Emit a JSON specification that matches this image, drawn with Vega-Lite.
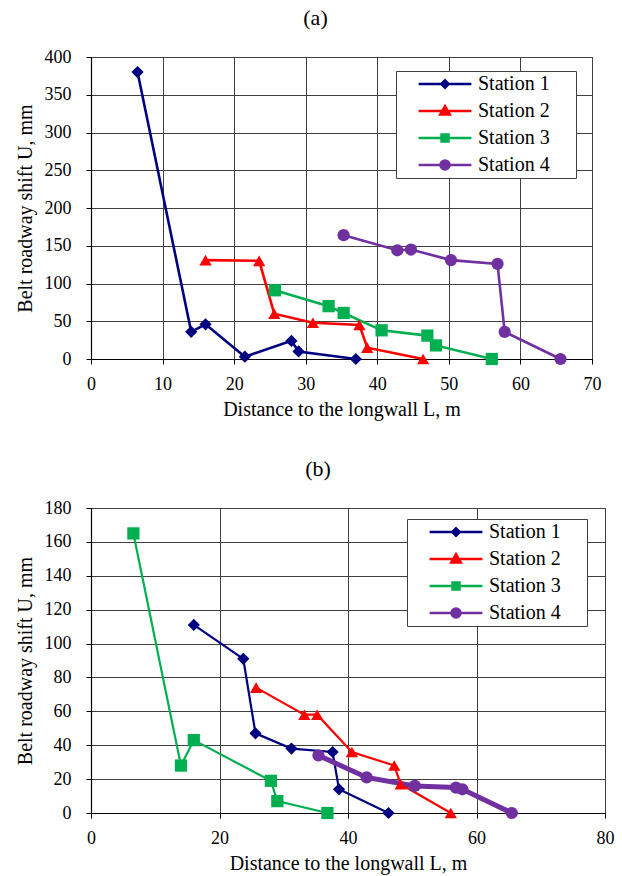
{
  "$schema": "https://vega.github.io/schema/vega-lite/v6.json",
  "padding": {"left": 14, "top": 6, "right": 5, "bottom": 5},
  "background": "white",
  "config": {
    "font": "Liberation Serif",
    "view": {"stroke": "#404040", "strokeWidth": 1},
    "axis": {
      "labelFont": "Liberation Serif", "labelFontSize": 18, "labelColor": "black",
      "titleFont": "Liberation Serif", "titleFontSize": 20, "titleFontWeight": "normal", "titleColor": "black",
      "grid": true, "gridColor": "#404040", "gridOpacity": 1, "gridWidth": 1,
      "domainColor": "black", "domainWidth": 1.2, "tickColor": "black", "tickSize": 5, "labelFlush": false
    },
    "axisX": {"labelPadding": 11, "titlePadding": 6},
    "axisY": {"labelPadding": 15, "titlePadding": 9},
    "title": {"font": "Liberation Serif", "fontSize": 22, "fontWeight": "normal", "color": "black"},
    "legend": {
      "orient": "none", "title": null, "strokeColor": "#404040", "fillColor": "white", "padding": 3,
      "labelFont": "Liberation Serif", "labelFontSize": 20, "labelColor": "black",
      "symbolSize": 144, "symbolStrokeWidth": 2.5, "rowPadding": 7,
      "symbolOffset": 36, "labelOffset": 23
    }
  },
  "datasets": {
    "a": [
      {"station": "Station 1", "L": 6.5, "U": 380},
      {"station": "Station 1", "L": 14, "U": 36},
      {"station": "Station 1", "L": 16, "U": 46},
      {"station": "Station 1", "L": 21.5, "U": 3},
      {"station": "Station 1", "L": 28, "U": 24},
      {"station": "Station 1", "L": 29, "U": 10},
      {"station": "Station 1", "L": 37, "U": 0},
      {"station": "Station 2", "L": 16, "U": 131},
      {"station": "Station 2", "L": 23.5, "U": 130},
      {"station": "Station 2", "L": 25.6, "U": 60},
      {"station": "Station 2", "L": 31, "U": 48},
      {"station": "Station 2", "L": 37.5, "U": 45},
      {"station": "Station 2", "L": 38.6, "U": 15},
      {"station": "Station 2", "L": 46.4, "U": 0},
      {"station": "Station 3", "L": 25.7, "U": 91},
      {"station": "Station 3", "L": 33.2, "U": 70},
      {"station": "Station 3", "L": 35.3, "U": 61},
      {"station": "Station 3", "L": 40.6, "U": 38},
      {"station": "Station 3", "L": 47, "U": 31},
      {"station": "Station 3", "L": 48.2, "U": 18},
      {"station": "Station 3", "L": 56, "U": 0},
      {"station": "Station 4", "L": 35.3, "U": 164},
      {"station": "Station 4", "L": 42.8, "U": 144},
      {"station": "Station 4", "L": 44.7, "U": 145},
      {"station": "Station 4", "L": 50.3, "U": 131},
      {"station": "Station 4", "L": 56.8, "U": 126},
      {"station": "Station 4", "L": 57.8, "U": 36},
      {"station": "Station 4", "L": 65.6, "U": 0}
    ],
    "b": [
      {"station": "Station 1", "L": 16, "U": 111},
      {"station": "Station 1", "L": 23.7, "U": 91},
      {"station": "Station 1", "L": 25.6, "U": 47},
      {"station": "Station 1", "L": 31.2, "U": 38},
      {"station": "Station 1", "L": 37.6, "U": 36},
      {"station": "Station 1", "L": 38.6, "U": 14},
      {"station": "Station 1", "L": 46.3, "U": 0},
      {"station": "Station 2", "L": 25.7, "U": 74},
      {"station": "Station 2", "L": 33.2, "U": 58},
      {"station": "Station 2", "L": 35.2, "U": 58},
      {"station": "Station 2", "L": 40.6, "U": 36},
      {"station": "Station 2", "L": 47.2, "U": 28},
      {"station": "Station 2", "L": 48.2, "U": 17},
      {"station": "Station 2", "L": 56, "U": 0},
      {"station": "Station 3", "L": 6.6, "U": 165},
      {"station": "Station 3", "L": 14, "U": 28},
      {"station": "Station 3", "L": 16, "U": 43},
      {"station": "Station 3", "L": 28, "U": 19},
      {"station": "Station 3", "L": 29, "U": 7},
      {"station": "Station 3", "L": 36.8, "U": 0},
      {"station": "Station 4", "L": 35.4, "U": 34},
      {"station": "Station 4", "L": 42.9, "U": 21},
      {"station": "Station 4", "L": 50.4, "U": 16},
      {"station": "Station 4", "L": 56.8, "U": 15},
      {"station": "Station 4", "L": 57.8, "U": 14},
      {"station": "Station 4", "L": 65.5, "U": 0}
    ]
  },
  "resolve": {"legend": {"color": "independent"}},
  "spacing": 37,
  "vconcat": [
    {
      "title": {"text": "(a)", "offset": 18, "frame": "group", "dx": -26},
      "width": 501,
      "height": 302,
      "data": {"name": "a"},
      "encoding": {
        "x": {"field": "L", "type": "quantitative", "scale": {"domain": [0, 70], "nice": false},
              "axis": {"values": [0, 10, 20, 30, 40, 50, 60, 70], "title": "Distance to the longwall L, m"}},
        "y": {"field": "U", "type": "quantitative", "scale": {"domain": [0, 400], "nice": false},
              "axis": {"values": [0, 50, 100, 150, 200, 250, 300, 350, 400], "title": "Belt roadway shift U, mm"}},
        "color": {"field": "station", "type": "nominal",
                  "scale": {"domain": ["Station 1", "Station 2", "Station 3", "Station 4"], "range": ["#000080", "#ff0000", "#00b050", "#7030a0"]},
                  "legend": {"legendX": 305, "legendY": 14,
                    "encode": {
                     "symbols": {"update": {
                      "shape": {"signal": "'M-6.5,0L-6.5,0M20.5,0L20.5,0' + (datum.value === 'Station 1' ? 'M-4.4,0H4.4M0,-0.62L0.62,0L0,0.62L-0.62,0Z' : datum.value === 'Station 2' ? 'M-4.4,0H4.4M0,-0.8L0.8,0.6L-0.8,0.6Z' : datum.value === 'Station 3' ? 'M-4.4,0H4.4M-0.58,-0.58H0.58V0.58H-0.58Z' : 'M-4.4,0H4.4M0.75,0A0.75,0.75 0 1,1 -0.75,0A0.75,0.75 0 1,1 0.75,0Z')"},
                      "fill": {"signal": "datum.value === 'Station 1' ? '#000080' : datum.value === 'Station 2' ? '#ff0000' : datum.value === 'Station 3' ? '#00b050' : '#7030a0'"},
                      "stroke": {"signal": "datum.value === 'Station 1' ? '#000080' : datum.value === 'Station 2' ? '#ff0000' : datum.value === 'Station 3' ? '#00b050' : '#7030a0'"},
                      "strokeWidth": {"value": 2.5},
                      "size": {"value": 144},
                      "opacity": {"value": 1},
                      "fillOpacity": {"value": 1},
                      "strokeOpacity": {"value": 1}
                    }}}}}
      },
      "layer": [
        {"mark": {"type": "line", "strokeWidth": 2.6}},
        {"mark": {"type": "point", "filled": true, "opacity": 1, "size": 150},
         "encoding": {"shape": {"field": "station", "type": "nominal",
           "scale": {"domain": ["Station 1", "Station 2", "Station 3", "Station 4"], "range": ["diamond", "triangle-up", "square", "circle"]},
           "legend": null}}}
      ]
    },
    {
      "title": {"text": "(b)", "offset": 18, "frame": "group", "dx": -30},
      "width": 514,
      "height": 305,
      "data": {"name": "b"},
      "encoding": {
        "x": {"field": "L", "type": "quantitative", "scale": {"domain": [0, 80], "nice": false},
              "axis": {"values": [0, 20, 40, 60, 80], "title": "Distance to the longwall L, m"}},
        "y": {"field": "U", "type": "quantitative", "scale": {"domain": [0, 180], "nice": false},
              "axis": {"values": [0, 20, 40, 60, 80, 100, 120, 140, 160, 180], "title": "Belt roadway shift U, mm"}},
        "color": {"field": "station", "type": "nominal",
                  "scale": {"domain": ["Station 1", "Station 2", "Station 3", "Station 4"], "range": ["#000080", "#ff0000", "#00b050", "#7030a0"]},
                  "legend": {"legendX": 316, "legendY": 11,
                    "encode": {
                     "symbols": {"update": {
                      "shape": {"signal": "'M-6.5,0L-6.5,0M20.5,0L20.5,0' + (datum.value === 'Station 1' ? 'M-4.4,0H4.4M0,-0.62L0.62,0L0,0.62L-0.62,0Z' : datum.value === 'Station 2' ? 'M-4.4,0H4.4M0,-0.8L0.8,0.6L-0.8,0.6Z' : datum.value === 'Station 3' ? 'M-4.4,0H4.4M-0.58,-0.58H0.58V0.58H-0.58Z' : 'M-4.4,0H4.4M0.75,0A0.75,0.75 0 1,1 -0.75,0A0.75,0.75 0 1,1 0.75,0Z')"},
                      "fill": {"signal": "datum.value === 'Station 1' ? '#000080' : datum.value === 'Station 2' ? '#ff0000' : datum.value === 'Station 3' ? '#00b050' : '#7030a0'"},
                      "stroke": {"signal": "datum.value === 'Station 1' ? '#000080' : datum.value === 'Station 2' ? '#ff0000' : datum.value === 'Station 3' ? '#00b050' : '#7030a0'"},
                      "strokeWidth": {"value": 2.5},
                      "size": {"value": 144},
                      "opacity": {"value": 1},
                      "fillOpacity": {"value": 1},
                      "strokeOpacity": {"value": 1}
                    }}}}}
      },
      "layer": [
        {"mark": {"type": "line"},
         "encoding": {"strokeWidth": {"condition": {"test": "datum.station === 'Station 4'", "value": 5}, "value": 2.2}}},
        {"mark": {"type": "point", "filled": true, "opacity": 1, "size": 150},
         "encoding": {"shape": {"field": "station", "type": "nominal",
           "scale": {"domain": ["Station 1", "Station 2", "Station 3", "Station 4"], "range": ["diamond", "triangle-up", "square", "circle"]},
           "legend": null}}}
      ]
    }
  ]
}
